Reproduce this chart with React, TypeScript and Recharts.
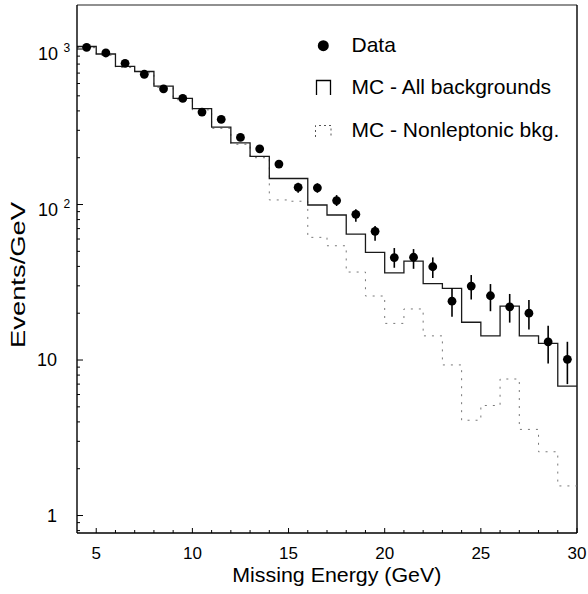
import React from 'react';
import { ComposedChart, Line, Scatter, XAxis, YAxis, ErrorBar, ReferenceLine } from 'recharts';

const FONT = '"Liberation Sans", Arial, Helvetica, sans-serif';

// Histogram bin edges (GeV)
const binEdges = [4, 5, 6, 7, 8, 9, 10, 11, 12, 13, 14, 15, 16, 17, 18, 19, 20, 21, 22, 23, 24, 25, 26, 27, 28, 29, 30];
// Data point positions (bin centres)
const binCenters = [4.5, 5.5, 6.5, 7.5, 8.5, 9.5, 10.5, 11.5, 12.5, 13.5, 14.5, 15.5, 16.5, 17.5, 18.5, 19.5, 20.5, 21.5, 22.5, 23.5, 24.5, 25.5, 26.5, 27.5, 28.5, 29.5];
// Data (Events/GeV)
const dataValues = [1025, 943, 809, 688, 555, 482, 393, 353, 270, 228, 182, 129, 128, 106, 86.5, 67.2, 45.6, 45.8, 39.8, 23.9, 29.9, 25.9, 22.0, 20.0, 13.1, 10.1];
const dataErrLow = [0, 0, 0, 0, 0, 0, 0, 0, 0, 0, 0, 10, 9, 8.2, 9, 8.7, 6.4, 7.2, 6.1, 4.9, 5.4, 5.3, 4.6, 4.3, 3.6, 3.1];
const dataErrHigh = [0, 0, 0, 0, 0, 0, 0, 0, 0, 0, 0, 9, 9, 9, 6.6, 5.6, 6.9, 5.9, 5.9, 5.0, 5.3, 4.9, 4.6, 4.3, 3.5, 3.0];
// MC - All backgrounds (per bin, 4-5 ... 29-30)
const mcAll = [1038, 929, 774, 717, 578, 481, 414, 315, 249, 204, 147, 147, 99.3, 85.6, 64.6, 49.3, 36.3, 43.3, 31.0, 28.9, 17.5, 14.3, 22.2, 14.3, 12.8, 6.8];
// MC - Nonleptonic bkg. (per bin)
const mcNonlep = [1020, 912, 760, 703, 567, 472, 406, 309, 244, 200, 107, 105, 61.5, 54.3, 36.8, 25.8, 17.2, 21.3, 14.3, 9.3, 4.1, 5.1, 7.55, 3.58, 2.57, 1.55];

const xMajorTicks = [5, 10, 15, 20, 25, 30];
const xTickLabels = ['5', '10', '15', '20', '25', '30'];
const xMinorTicks = [6, 7, 8, 9, 11, 12, 13, 14, 16, 17, 18, 19, 21, 22, 23, 24, 26, 27, 28, 29];
const yMajorTicks = [1, 10, 100, 1000];
const yTickBase = ['1', '10', '10', '10'];
const yTickExp = ['', '', '2', '3'];
const yMinorTicks = [0.8, 0.9, 2, 3, 4, 5, 6, 7, 8, 9, 20, 30, 40, 50, 60, 70, 80, 90, 200, 300, 400, 500, 600, 700, 800, 900];

const Y_DOMAIN: [number, number] = [0.772, 1919];

const stepAll = binEdges.map((x, i) => ({ x, y: mcAll[Math.min(i, mcAll.length - 1)] }));
const stepNonlep = binEdges.map((x, i) => ({ x, y: mcNonlep[Math.min(i, mcNonlep.length - 1)] }));
const points = binCenters.map((x, i) => ({ x, y: dataValues[i], err: [dataErrLow[i], dataErrHigh[i]] }));

const xAllTicks = [...xMinorTicks, ...xMajorTicks].sort((a, b) => a - b);
const yAllTicks = [...yMinorTicks, ...yMajorTicks].sort((a, b) => a - b);

const XTick = (props: any) => {
  const { x, y, payload } = props;
  const idx = xMajorTicks.indexOf(payload.value);
  const major = idx >= 0;
  return (
    <g>
      <line x1={x} x2={x} y1={y} y2={y - (major ? 5 : 3)} stroke="#000" strokeWidth={1} />
      {major && (
        <text x={x} y={y + 26} textAnchor="middle" fontSize={17} fontFamily={FONT} fill="#000">
          {xTickLabels[idx]}
        </text>
      )}
    </g>
  );
};

const YTick = (props: any) => {
  const { x, y, payload } = props;
  const idx = yMajorTicks.indexOf(payload.value);
  const major = idx >= 0;
  return (
    <g>
      <line x1={x} x2={x + (major ? 6 : 3)} y1={y} y2={y} stroke="#000" strokeWidth={1} />
      {major && yTickExp[idx] === '' && (
        <text x={x - 20} y={y} textAnchor="end" dominantBaseline="central" fontSize={18} fontFamily={FONT} fill="#000">
          {yTickBase[idx]}
        </text>
      )}
      {major && yTickExp[idx] !== '' && (
        <g>
          <text x={x - 19} y={y + 5} textAnchor="end" dominantBaseline="central" fontSize={18} fontFamily={FONT} fill="#000">
            {yTickBase[idx]}
          </text>
          <text x={x - 13.5} y={y - 1} textAnchor="start" dominantBaseline="central" fontSize={12} fontFamily={FONT} fill="#000">
            {yTickExp[idx]}
          </text>
        </g>
      )}
    </g>
  );
};

const Dot = (props: any) => {
  const { cx, cy } = props;
  if (cx == null || cy == null) return null;
  return <circle cx={cx} cy={cy} r={4.4} fill="#000" />;
};

export default function App() {
  return (
    <div style={{ position: 'absolute', left: 0, top: 0, width: 588, height: 594, background: '#fff' }}>
      <ComposedChart width={588} height={594} margin={{ top: 5, right: 11, bottom: 0, left: 0 }}>
        <XAxis
          dataKey="x"
          type="number"
          domain={[4, 30]}
          allowDataOverflow
          ticks={xAllTicks}
          interval={0}
          tickSize={0}
          tickMargin={0}
          tickLine={false}
          axisLine={{ stroke: '#000', strokeWidth: 1.4 }}
          height={61}
          tick={<XTick />}
        />
        <YAxis
          dataKey="y"
          type="number"
          scale="log"
          domain={Y_DOMAIN}
          allowDataOverflow
          ticks={yAllTicks}
          interval={0}
          tickSize={0}
          tickMargin={0}
          tickLine={false}
          axisLine={{ stroke: '#000', strokeWidth: 1.4 }}
          width={77}
          tick={<YTick />}
        />
        <ReferenceLine y={Y_DOMAIN[1]} stroke="#222" strokeWidth={1.2} ifOverflow="visible" />
        <ReferenceLine x={30} stroke="#000" strokeWidth={1.4} ifOverflow="visible" />
        <Line
          data={stepNonlep}
          dataKey="y"
          type="stepAfter"
          stroke="#777"
          strokeWidth={1}
          strokeDasharray="2 6"
          dot={false}
          isAnimationActive={false}
        />
        <Line
          data={stepAll}
          dataKey="y"
          type="stepAfter"
          stroke="#1a1a1a"
          strokeWidth={1.3}
          dot={false}
          isAnimationActive={false}
        />
        <Scatter data={points} dataKey="y" shape={<Dot />} isAnimationActive={false}>
          <ErrorBar dataKey="err" direction="y" width={0} stroke="#000" strokeWidth={1.6} isAnimationActive={false} />
        </Scatter>
      </ComposedChart>
      <svg width={588} height={594} style={{ position: 'absolute', left: 0, top: 0, pointerEvents: 'none' }}>
        <g fontFamily={FONT} fill="#000">
          <text
            transform="translate(24.5,275) rotate(-90)"
            textAnchor="middle"
            fontSize={21}
            textLength={146}
            lengthAdjust="spacingAndGlyphs"
          >
            Events/GeV
          </text>
          <text x={336.8} y={582} textAnchor="middle" fontSize={20} textLength={209} lengthAdjust="spacingAndGlyphs">
            Missing Energy (GeV)
          </text>
          <circle cx={323.3} cy={45.7} r={5.5} fill="#000" />
          <text x={351.5} y={52.3} fontSize={21}>Data</text>
          <path d="M316.5 95 V80.5 H330.5 V95" stroke="#000" strokeWidth={1.3} fill="none" />
          <text x={351.5} y={94.3} fontSize={21}>MC - All backgrounds</text>
          <path d="M315.5 137 V125.5 H331 V137" stroke="#555" strokeWidth={1} strokeDasharray="2 3" fill="none" />
          <text x={351.5} y={136.5} fontSize={21}>MC - Nonleptonic bkg.</text>
        </g>
      </svg>
    </div>
  );
}
